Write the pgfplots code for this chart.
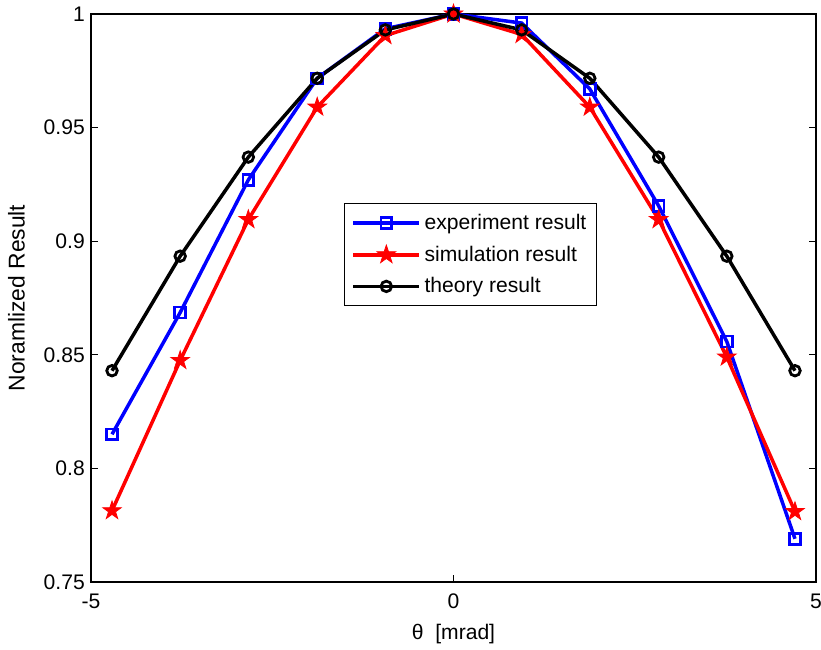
\documentclass[border=0pt]{standalone}
\usepackage{pgfplots}
\pgfplotsset{compat=1.18}
\usepackage{fontspec}
\setmainfont{Liberation Sans}
\pgfdeclareplotmark{pentagram}{%
  \pgfpathmoveto{\pgfpointpolar{90}{\pgfplotmarksize}}%
  \pgfpathlineto{\pgfpointpolar{126}{0.382\pgfplotmarksize}}%
  \pgfpathlineto{\pgfpointpolar{162}{\pgfplotmarksize}}%
  \pgfpathlineto{\pgfpointpolar{198}{0.382\pgfplotmarksize}}%
  \pgfpathlineto{\pgfpointpolar{234}{\pgfplotmarksize}}%
  \pgfpathlineto{\pgfpointpolar{270}{0.382\pgfplotmarksize}}%
  \pgfpathlineto{\pgfpointpolar{306}{\pgfplotmarksize}}%
  \pgfpathlineto{\pgfpointpolar{342}{0.382\pgfplotmarksize}}%
  \pgfpathlineto{\pgfpointpolar{18}{\pgfplotmarksize}}%
  \pgfpathlineto{\pgfpointpolar{54}{0.382\pgfplotmarksize}}%
  \pgfpathclose
  \pgfusepathqfillstroke
}
\begin{document}
\begin{tikzpicture}
\path[use as bounding box] (0cm,0cm) rectangle (16.42cm,13cm);
\begin{axis}[
  at={(1.82cm,1.36cm)}, anchor=south west,
  scale only axis, width=14.5cm, height=11.36cm,
  xmin=-5, xmax=5, ymin=0.75, ymax=1,
  xtick={-5,0,5}, ytick={0.75,0.8,0.85,0.9,0.95,1},
  yticklabels={0.75,0.8,0.85,0.9,0.95,1},
  xticklabels={-5,0,5},
  tick align=inside, major tick length=0.14cm,
  tick style={black, line width=0.5pt},
  axis line style={line width=0.8pt},
  font=\fontsize{12pt}{14pt}\selectfont,
  ticklabel style={font=\fontsize{12pt}{14pt}\selectfont},
  xticklabel style={yshift=-0.12cm},
  xlabel={θ\ \ [mrad]}, ylabel={Noramlized Result},
  xlabel style={at={(0.5,0)}, anchor=north, yshift=-0.72cm},
  ylabel style={at={(0,0.5)}, anchor=south, yshift=1.2cm, font=\fontsize{13pt}{15pt}\selectfont},
  legend style={at={(0.349,0.667)}, anchor=north west, draw=black, line width=0.6pt,
    font=\fontsize{12pt}{14pt}\selectfont, inner xsep=4pt, inner ysep=4pt, row sep=3.8pt,
    cells={anchor=west}},
  legend image code/.code={\draw[mark repeat=2,mark phase=2] plot coordinates {(0cm,0cm) (0.66cm,0cm) (1.32cm,0cm)};},
]
\addplot[blue, line width=2pt, mark=square, mark size=3.1pt, mark options={line width=1.5pt, solid}]
coordinates {(-4.71,0.815) (-3.77,0.8686) (-2.83,0.927) (-1.88,0.9717) (-0.94,0.9935) (0,1.0) (0.94,0.996) (1.88,0.967) (2.83,0.9155) (3.77,0.8558) (4.71,0.769)};
\addlegendentry{experiment result}
\addplot[red, line width=2pt, mark=pentagram, mark size=5.6pt, mark options={line width=0.4pt, solid, fill=red}]
coordinates {(-4.71,0.7814) (-3.77,0.8475) (-2.83,0.9095) (-1.88,0.959) (-0.94,0.9905) (0,1.0) (0.94,0.991) (1.88,0.959) (2.83,0.9095) (3.77,0.849) (4.71,0.781)};
\addlegendentry{simulation result}
\addplot[black, line width=2pt, mark=o, mark size=3pt, mark options={line width=1.6pt, solid}]
coordinates {(-4.71,0.843) (-3.77,0.8934) (-2.83,0.937) (-1.88,0.9717) (-0.94,0.993) (0,1.0) (0.94,0.993) (1.88,0.9717) (2.83,0.937) (3.77,0.8934) (4.71,0.843)};
\addlegendentry{theory result}
\end{axis}
\end{tikzpicture}
\end{document}
